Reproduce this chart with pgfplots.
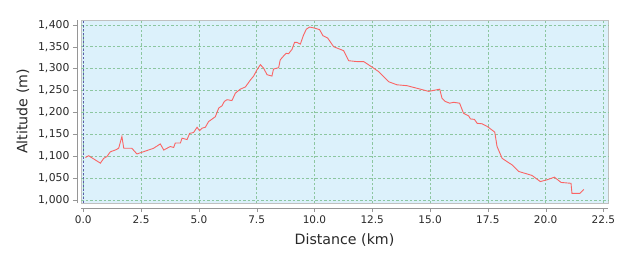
\documentclass[border=0pt]{standalone}
\usepackage{pgfplots}
\pgfplotsset{compat=1.18}
\usepackage{fontspec}
\setmainfont{DejaVu Sans}
\definecolor{bgc}{RGB}{220,241,251}
\definecolor{gridc}{RGB}{140,198,160}
\definecolor{linec}{RGB}{250,100,100}
\definecolor{axc}{RGB}{150,150,150}
\definecolor{txt}{RGB}{40,40,40}
\definecolor{zeroc}{RGB}{90,90,170}
\begin{document}
\begin{tikzpicture}
\begin{axis}[
  scale only axis, width=527pt, height=183pt,
  xmin=-0.1, xmax=22.7, ymin=993, ymax=1411,
  axis background/.style={fill=bgc, draw=axc!60},
  axis x line*=bottom, axis y line*=left,
  x axis line style={axc, yshift=-5pt, -},
  y axis line style={axc, xshift=-4pt, -},
  xtick style={axc, yshift=-5pt},
  ytick style={axc, xshift=-4pt},
  tick align=outside, major tick length=4pt,
  xtick={0,2.5,...,22.5}, ytick={1000,1050,...,1400},
  xticklabel style={yshift=-5pt, text=txt, font=\fontsize{10.5}{12}\selectfont},
  yticklabel style={xshift=-4pt, text=txt, font=\fontsize{10.8}{12}\selectfont},
  /pgf/number format/assume math mode=true,
  xticklabel={\pgfmathprintnumber[fixed, fixed zerofill, precision=1]{\tick}},
  yticklabel={\pgfmathprintnumber[fixed, 1000 sep={,\kern0.5pt}]{\tick}},
  grid=major, major grid style={gridc, dash pattern=on 2.5pt off 2pt, line width=0.6pt},
  xlabel={Distance (km)}, ylabel={Altitude (m)},
  xlabel style={font=\fontsize{14.2}{16}\selectfont, text=txt, yshift=-3pt},
  ylabel style={font=\fontsize{14.2}{16}\selectfont, text=txt, yshift=2pt},
]
\addplot[zeroc, dash pattern=on 2pt off 2pt, line width=0.5pt, forget plot] coordinates {(0,993)(0,1411)};
\addplot[linec, line width=0.9pt, mark=none] coordinates {
(0.09,1097)(0.23,1101)(0.74,1084)(0.88,1095)(1.02,1099)(1.17,1110)(1.38,1114)(1.53,1118)
(1.67,1145)(1.75,1118)(2.10,1118)(2.32,1105)(3.04,1118)(3.33,1128)(3.48,1114)(3.76,1122)
(3.91,1120)(3.98,1130)(4.20,1130)(4.27,1141)(4.49,1138)(4.60,1152)(4.77,1154)(4.92,1166)
(5.03,1158)(5.14,1164)(5.28,1166)(5.42,1179)(5.71,1190)(5.86,1210)(6.00,1215)(6.10,1225)
(6.22,1229)(6.43,1227)(6.58,1244)(6.79,1253)(7.01,1258)(7.23,1274)(7.37,1283)(7.51,1297)
(7.66,1309)(7.80,1301)(7.95,1286)(8.16,1283)(8.23,1299)(8.45,1302)(8.52,1320)(8.70,1331)
(8.78,1335)(8.88,1334)(9.03,1344)(9.14,1360)(9.24,1360)(9.39,1356)(9.53,1377)(9.65,1390)
(9.79,1395)(10.04,1392)(10.22,1389)(10.37,1375)(10.57,1370)(10.83,1350)(11.26,1341)
(11.48,1318)(11.84,1316)(12.13,1316)(12.42,1306)(12.78,1293)(13.21,1270)(13.57,1263)
(14.00,1261)(14.44,1255)(14.94,1248)(15.42,1253)(15.52,1232)(15.66,1225)(15.85,1221)
(16.02,1223)(16.28,1221)(16.45,1198)(16.67,1192)(16.75,1185)(16.92,1184)(17.04,1175)
(17.25,1174)(17.47,1168)(17.80,1155)(17.90,1122)(18.12,1095)(18.55,1080)(18.84,1065)
(19.41,1056)(19.77,1042)(20.06,1046)(20.38,1052)(20.67,1040)(21.10,1038)(21.14,1015)
(21.48,1015)(21.65,1024)
};
\end{axis}
\path ([shift={(-81pt,-53pt)}]current axis.south west) rectangle ([shift={(20pt,20pt)}]current axis.north east);
\end{tikzpicture}
\end{document}
